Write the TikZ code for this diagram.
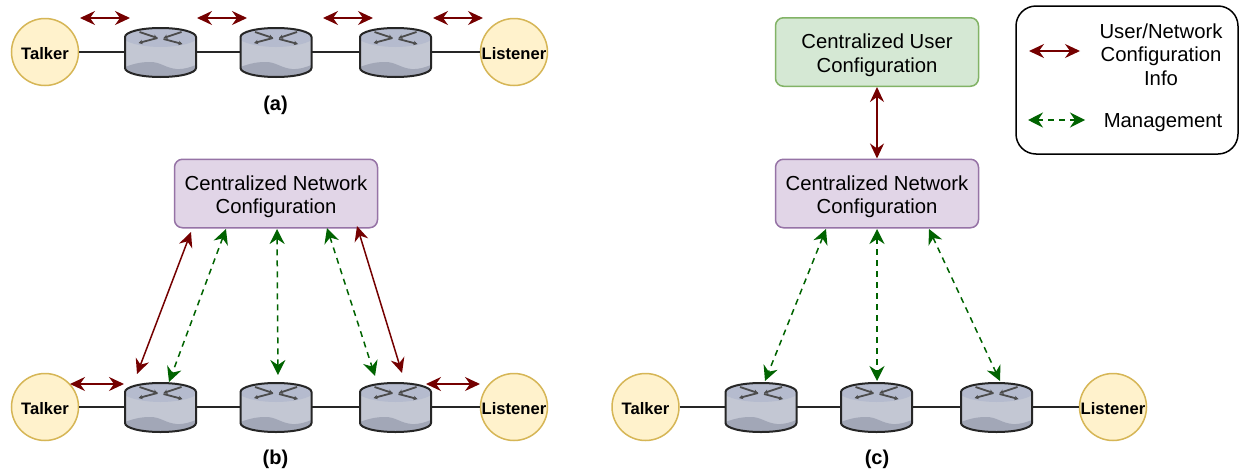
\documentclass[tikz,border=0pt]{standalone}
\usepackage{fontspec}
\setmainfont{Liberation Sans}
\usetikzlibrary{arrows.meta}
\definecolor{rtop}{HTML}{B5BBCE}
\definecolor{rbody}{HTML}{C3C7D3}
\definecolor{rlow}{HTML}{A2A7B7}
\definecolor{redarrow}{HTML}{750000}
\definecolor{greenarrow}{HTML}{006300}
\tikzset{
  x=1pt,y=-1pt,
  endpoint/.style={circle,draw=#1,fill=endfill,line width=1.5pt,minimum size=67pt,inner sep=0pt,font=\fontsize{16.6}{19}\selectfont\bfseries},
  endpoint/.default=endline,
  cfgbox/.style={rectangle,rounded corners=8pt,line width=1.5pt,minimum width=203pt,minimum height=68.5pt,inner sep=0pt,align=center,font=\fontsize{20.3}{23.6}\selectfont},
  netbox/.style={cfgbox,draw=netline,fill=netfill},
  userbox/.style={cfgbox,draw=userline,fill=userfill},
  routerbox/.style={rectangle,minimum width=72pt,minimum height=48pt,inner sep=0pt},
  link/.style={line width=1.5pt,draw=black!85},
  infoarrow/.style={line width=1.5pt,draw=redarrow,{Stealth[length=15pt,width=14pt,inset=5pt]}-{Stealth[length=15pt,width=14pt,inset=5pt]}},
  mgmtarrow/.style={line width=1.5pt,draw=greenarrow,dash pattern=on 6pt off 5pt,{Stealth[length=15pt,width=15pt,inset=5pt]}-{Stealth[length=15pt,width=15pt,inset=5pt]}},
  caption/.style={font=\fontsize{20}{24}\selectfont\bfseries},
  legendtext/.style={align=center,font=\fontsize{20.3}{23.6}\selectfont},
}
\definecolor{endfill}{HTML}{FFF2CC}
\definecolor{endline}{HTML}{D6B656}
\definecolor{netfill}{HTML}{E1D5E7}
\definecolor{netline}{HTML}{9673A6}
\definecolor{userfill}{HTML}{D5E8D4}
\definecolor{userline}{HTML}{82B366}
\newcommand{\lowerline}{\rule{0pt}{21pt}}
\newcommand{\lowerword}{\rule{0pt}{16pt}}
\newcommand{\routerat}[3]{%
  \node[routerbox] (#1) at (#2,#3) {};
  \begin{scope}[shift={(#1.center)}]
    \fill[rbody] (-35.5,-15) .. controls (-35.5,-20) and (-20,-24) .. (0,-24) .. controls (20,-24) and (35.5,-20) .. (35.5,-15) -- (35.5,16) .. controls (35.5,21) and (20,25) .. (0,25) .. controls (-20,25) and (-35.5,21) .. (-35.5,16) -- cycle;
    \fill[rtop] (-35.5,-15) .. controls (-35.5,-20) and (-20,-24) .. (0,-24) .. controls (20,-24) and (35.5,-20) .. (35.5,-15) -- (35.5,-12) .. controls (30,-8) and (15,-5) .. (0,-5) .. controls (-15,-5) and (-30,-8) .. (-35.5,-12) -- cycle;
    \fill[rlow] (-35.5,15) .. controls (-25,11) and (-18,10) .. (-10,10) .. controls (0,10) and (5,16) .. (16,17) .. controls (24,17.5) and (30,15) .. (35.5,13) -- (35.5,16) .. controls (35.5,21) and (20,25) .. (0,25) .. controls (-20,25) and (-35.5,21) .. (-35.5,16) -- cycle;
    \draw[line width=2pt,draw=black!85] (-35.5,-15) .. controls (-35.5,-20) and (-20,-24) .. (0,-24) .. controls (20,-24) and (35.5,-20) .. (35.5,-15) -- (35.5,16) .. controls (35.5,21) and (20,25) .. (0,25) .. controls (-20,25) and (-35.5,21) .. (-35.5,16) -- cycle;
    \begin{scope}[line width=1.8pt,draw=black!70,-{Stealth[length=4pt,width=4.5pt]}]
      \draw (-21,-20) -- (-3,-14);
      \draw (-3,-14) -- (-22,-9);
      \draw (21,-20) -- (3,-14);
      \draw (3,-13) -- (22,-8);
    \end{scope}
  \end{scope}%
}
\begin{document}
\begin{tikzpicture}
\useasboundingbox (0,0) rectangle (1239,474);
\fill[white] (0,0) rectangle (1239,474);

% (a)
\node[endpoint] (ta) at (45,52) {\lowerword Talker};
\node[endpoint] (la) at (514,52) {\lowerword Listener};
\routerat{ra1}{160.5}{52}
\routerat{ra2}{276}{52}
\routerat{ra3}{395.5}{52}
\draw[link] (ta) -- (ra1) (ra1) -- (ra2) (ra2) -- (ra3) (ra3) -- (la);
\coordinate (a1l) at (80,18); \coordinate (a1r) at (130,18);
\coordinate (a2l) at (197,18); \coordinate (a2r) at (247,18);
\coordinate (a3l) at (323,18); \coordinate (a3r) at (373,18);
\coordinate (a4l) at (433,18); \coordinate (a4r) at (483,18);
\draw[infoarrow] (a1l) -- (a1r);
\draw[infoarrow] (a2l) -- (a2r);
\draw[infoarrow] (a3l) -- (a3r);
\draw[infoarrow] (a4l) -- (a4r);
\node[caption] (capa) at (275.5,105.5) {(a)};

% (b)
\node[netbox] (nb) at (276,193.5) {\lowerline Centralized Network\\Configuration};
\node[endpoint] (tb) at (45,407) {\lowerword Talker};
\node[endpoint] (lb) at (514,407) {\lowerword Listener};
\routerat{rb1}{160.5}{407}
\routerat{rb2}{276}{407}
\routerat{rb3}{395.5}{407}
\draw[link] (tb) -- (rb1) (rb1) -- (rb2) (rb2) -- (rb3) (rb3) -- (lb);
\coordinate (b1l) at (70,384); \coordinate (b1r) at (124,384);
\coordinate (b2l) at (426,384); \coordinate (b2r) at (480,384);
\draw[infoarrow] (b1l) -- (b1r);
\draw[infoarrow] (b2l) -- (b2r);
\coordinate (nbr1) at (191,232); \coordinate (rbn1) at (137,374);
\coordinate (nbr3) at (357,226); \coordinate (rbn3) at (402,373);
\draw[infoarrow] (nbr1) -- (rbn1);
\draw[infoarrow] (nbr3) -- (rbn3);
\coordinate (nbg1) at (226,229); \coordinate (rbg1) at (169,382);
\coordinate (nbg2) at (277,229); \coordinate (rbg2) at (278,375);
\coordinate (nbg3) at (327,228); \coordinate (rbg3) at (375,376);
\draw[mgmtarrow] (nbg1) -- (rbg1);
\draw[mgmtarrow] (nbg2) -- (rbg2);
\draw[mgmtarrow] (nbg3) -- (rbg3);
\node[caption] (capb) at (275.5,459.5) {(b)};

% (c)
\node[userbox] (uc) at (877,52) {\lowerline Centralized User\\Configuration};
\node[netbox] (nc) at (877,193.5) {\lowerline Centralized Network\\Configuration};
\node[endpoint] (tc) at (645.5,407) {\lowerword Talker};
\node[endpoint] (lc) at (1113,407) {\lowerword Listener};
\routerat{rc1}{761}{407}
\routerat{rc2}{876.5}{407}
\routerat{rc3}{996.5}{407}
\draw[link] (tc) -- (rc1) (rc1) -- (rc2) (rc2) -- (rc3) (rc3) -- (lc);
\draw[infoarrow] (uc) -- (nc);
\coordinate (ncg1) at (826,229); \coordinate (rcg1) at (765,381);
\coordinate (ncg2) at (877,229); \coordinate (rcg2) at (877,381);
\coordinate (ncg3) at (929,229); \coordinate (rcg3) at (1000,381);
\draw[mgmtarrow] (ncg1) -- (rcg1);
\draw[mgmtarrow] (ncg2) -- (rcg2);
\draw[mgmtarrow] (ncg3) -- (rcg3);
\node[caption] (capc) at (877,459.5) {(c)};

% legend
\draw[line width=1.5pt,draw=black,fill=white,rounded corners=20pt] (1016,6) rectangle (1238,154);
\coordinate (k1l) at (1029,51); \coordinate (k1r) at (1080,51);
\coordinate (k2l) at (1028,120); \coordinate (k2r) at (1085,120);
\draw[infoarrow] (k1l) -- (k1r);
\draw[mgmtarrow] (k2l) -- (k2r);
\node[legendtext] (k1t) at (1161,54.5) {User/Network\\Configuration\\Info};
\node[legendtext] (k2t) at (1163,122.5) {Management};
\end{tikzpicture}
\end{document}
